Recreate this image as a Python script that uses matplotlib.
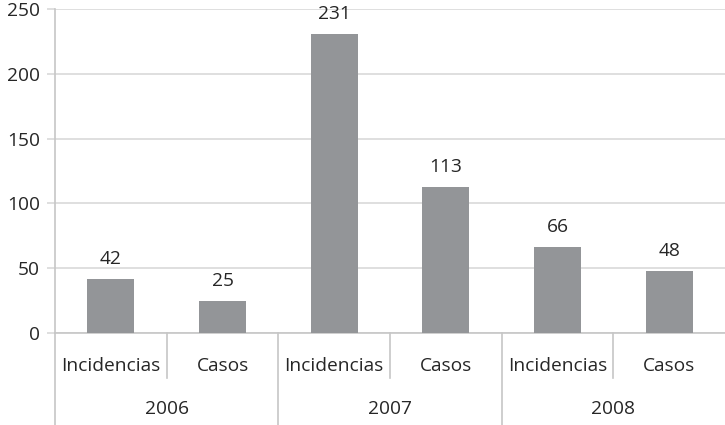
import matplotlib.pyplot as plt
from matplotlib.transforms import blended_transform_factory

plt.rcParams["font.family"] = ["Open Sans", "DejaVu Sans"]

years = ["2006", "2007", "2008"]
kinds = ["Incidencias", "Casos"]
values = [42, 25, 231, 113, 66, 48]

BAR = "#939598"
AXIS = "#c6c6c6"
GRID = "#d9d9d9"
TEXT = "#262626"
FS = 13.8

fig = plt.figure(figsize=(7.25, 4.25), dpi=100, facecolor="white")
ax = fig.add_axes([0.0759, 0.2165, 0.9241, 0.7624])

x = list(range(len(values)))
bars = ax.bar(x, values, width=0.42, color=BAR, zorder=3)

ax.set_xlim(-0.5, len(values) - 0.5)
ax.set_ylim(0, 250)
ax.set_yticks(range(0, 251, 50))
ax.yaxis.grid(True, color=GRID, lw=1.2, zorder=0)
ax.tick_params(axis="y", length=6, color=GRID, width=1.2, labelsize=FS, labelcolor=TEXT, pad=5)
ax.set_xticks([])

for side in ("top", "right"):
    ax.spines[side].set_visible(False)
ax.spines["left"].set_color(AXIS)
ax.spines["bottom"].set_color(AXIS)
ax.spines["left"].set_linewidth(1.2)
ax.spines["bottom"].set_linewidth(1.2)

# value labels above bars
for rect, v in zip(bars, values):
    ax.annotate(str(v), (rect.get_x() + rect.get_width() / 2, v),
                xytext=(0, 20), textcoords="offset pixels",
                ha="center", va="center", fontsize=FS, color=TEXT)

# two-level category axis
trans = blended_transform_factory(ax.transData, ax.transAxes)
for i in range(len(values)):
    ax.text(i, -0.102, kinds[i % 2], transform=trans, ha="center", va="center",
            fontsize=FS, color=TEXT)
for j, yr in enumerate(years):
    ax.text(2 * j + 0.5, -0.235, yr, transform=trans, ha="center", va="center",
            fontsize=FS, color=TEXT)

for b in [0.5, 2.5, 4.5]:
    ax.plot([b, b], [0, -0.139], transform=trans, color=AXIS, lw=1.2, clip_on=False)
for b in [-0.5, 1.5, 3.5]:
    ax.plot([b, b], [0, -0.3], transform=trans, color=AXIS, lw=1.2, clip_on=False)

fig.savefig("out.png", dpi=100, facecolor="white")
